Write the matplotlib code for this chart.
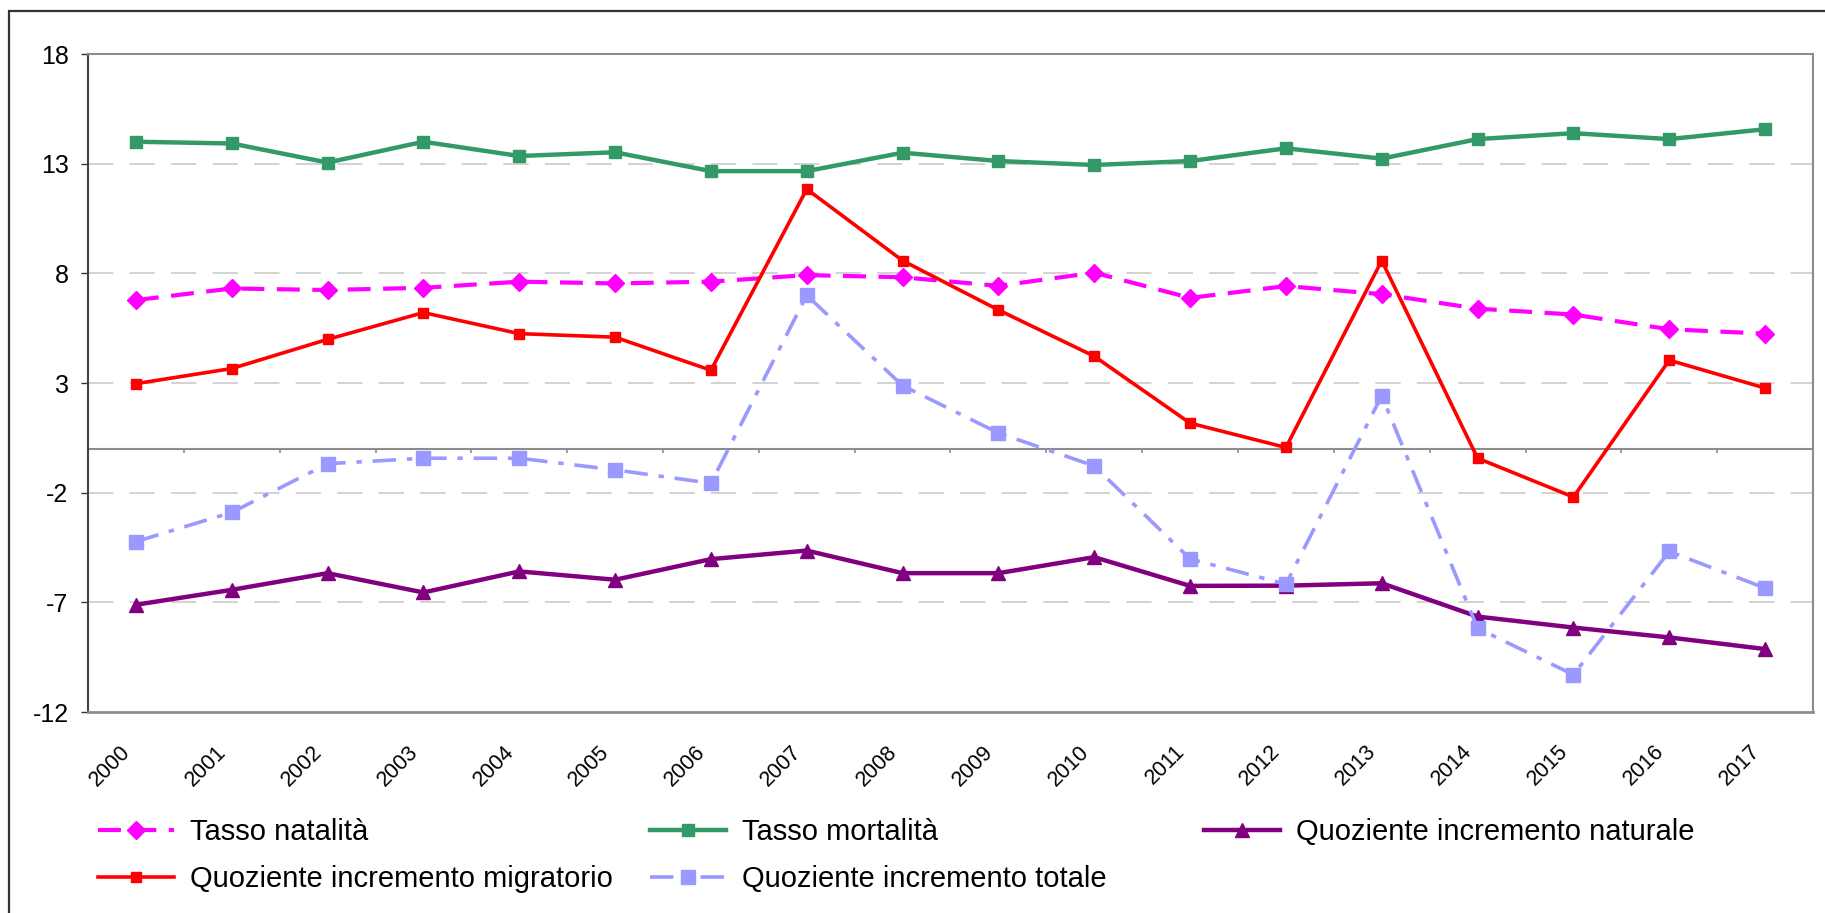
import matplotlib
matplotlib.use("Agg")
import matplotlib.pyplot as plt
import matplotlib.patches as patches
import matplotlib.transforms as mtransforms

plt.rcParams['font.family'] = ['Liberation Sans', 'DejaVu Sans']

anni = ['2000', '2001', '2002', '2003', '2004', '2005', '2006', '2007', '2008',
        '2009', '2010', '2011', '2012', '2013', '2014', '2015', '2016', '2017']
natalita = [6.78, 7.31, 7.24, 7.34, 7.62, 7.54, 7.62, 7.92, 7.82, 7.43, 8.03, 6.88,
            7.42, 7.05, 6.39, 6.12, 5.45, 5.25]
mortalita = [14.0, 13.92, 13.05, 14.0, 13.35, 13.52, 12.66, 12.66, 13.5, 13.12, 12.94,
             13.12, 13.7, 13.23, 14.12, 14.39, 14.12, 14.57]
naturale = [-7.11, -6.43, -5.67, -6.55, -5.59, -5.97, -5.03, -4.64, -5.67, -5.67, -4.94,
            -6.25, -6.24, -6.13, -7.65, -8.15, -8.6, -9.13]
migratorio = [2.97, 3.66, 4.99, 6.21, 5.25, 5.09, 3.58, 11.84, 8.58, 6.33, 4.22, 1.17,
              0.06, 8.58, -0.43, -2.2, 4.04, 2.77]
totale = [-4.23, -2.9, -0.68, -0.43, -0.43, -0.96, -1.57, 7.0, 2.88, 0.72, -0.78, -5.02,
          -6.17, 2.42, -8.18, -10.3, -4.68, -6.35]
yticks = [-12, -7, -2, 3, 8, 13, 18]

W, H = 1825, 913
fig = plt.figure(figsize=(W / 100, H / 100), dpi=100)
ax = fig.add_axes([88 / W, 1 - 712 / H, (1813 - 88) / W, (712 - 54) / H])

x = list(range(len(anni)))

# griglia tratteggiata
for v in yticks[1:-1]:
    ax.axhline(v, color='#cfcfcf', lw=1.3, dashes=(14, 9), zorder=0)
ax.axhline(0, color='#8c8c8c', lw=1.5, zorder=1)
ax.vlines([i + 0.5 for i in x[:-1]], 0, -0.2, color='#8c8c8c', lw=1.2, zorder=1)

l1, = ax.plot(x, natalita, color='#ff00ff', lw=3.0, ls=(0, (5.5, 3)),
              marker='D', ms=9, label='Tasso natalità')
l2, = ax.plot(x, mortalita, color='#339966', lw=3.2, marker='s', ms=9,
              label='Tasso mortalità')
l3, = ax.plot(x, naturale, color='#800080', lw=3.2, marker='^', ms=10,
              label='Quoziente incremento naturale')
l4, = ax.plot(x, migratorio, color='#ff0000', lw=2.6, marker='s', ms=7,
              label='Quoziente incremento migratorio')
l5, = ax.plot(x, totale, color='#9999ff', lw=2.6, ls=(0, (6.5, 3, 1.5, 3)),
              marker='s', ms=10, label='Quoziente incremento totale')

ax.set_xlim(-0.5, len(anni) - 0.5)
ax.set_ylim(-12, 18)
ax.set_yticks(yticks)
ax.set_yticklabels([str(v) for v in yticks], fontsize=18)
ax.tick_params(axis='y', length=5, width=1, color='#333333', pad=9)
ax.set_xticks(x)
ax.set_xticklabels(anni, fontsize=15.5)
ax.tick_params(axis='x', length=0, pad=21)
off = mtransforms.ScaledTranslation(-0.16, 0, fig.dpi_scale_trans)
for lab in ax.get_xticklabels():
    lab.set_rotation(45)
    lab.set_ha('right')
    lab.set_rotation_mode('anchor')
    lab.set_transform(lab.get_transform() + off)

for s in ['top', 'right']:
    ax.spines[s].set_color('#8c8c8c')
    ax.spines[s].set_linewidth(1.5)
ax.spines['bottom'].set_color('#8c8c8c')
ax.spines['bottom'].set_linewidth(2)
ax.spines['left'].set_color('#444444')
ax.spines['left'].set_linewidth(1.5)

# cornice esterna
fig.patches.append(patches.Rectangle((9 / W, -0.1), 1.2, 1.1 - 11 / H, fill=False,
                                     ec='#333333', lw=1.6, transform=fig.transFigure))

leg_kw = dict(loc='upper left', frameon=False, fontsize=21, borderpad=0,
              borderaxespad=0, handlelength=2.6, handletextpad=0.55, labelspacing=0.66)
fig.legend(handles=[l1, l4], bbox_to_anchor=(98 / W, 1 - 818 / H), **leg_kw)
fig.legend(handles=[l2, l5], bbox_to_anchor=(650 / W, 1 - 818 / H), **leg_kw)
fig.legend(handles=[l3], bbox_to_anchor=(1204 / W, 1 - 818 / H), **leg_kw)

fig.savefig('out.png', dpi=100)
